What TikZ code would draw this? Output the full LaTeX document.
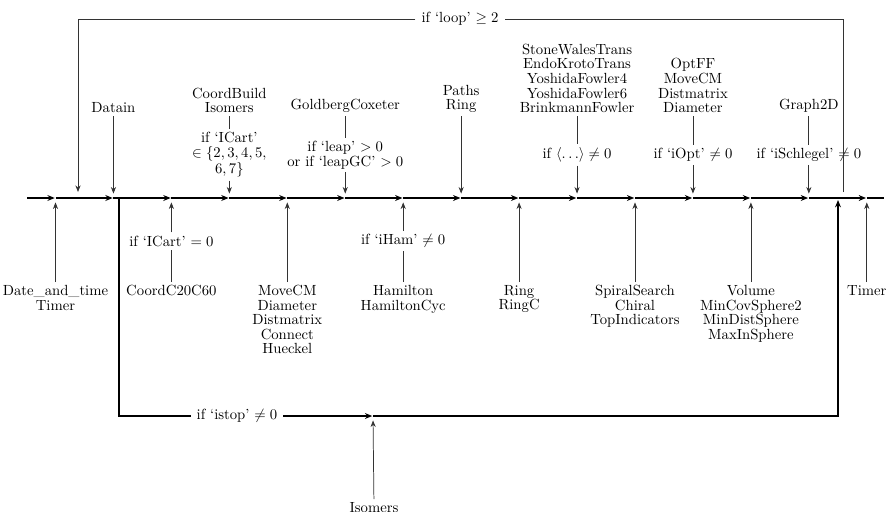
\documentclass[tikz,border=0pt]{standalone}
\usepackage{amsmath}
\usepackage{tikz}
\usetikzlibrary{arrows.meta,calc,positioning}

\begin{document}
\begin{tikzpicture}[x=0.68pt,y=-0.68pt,
  lbl/.style={align=center,font=\fontsize{10}{9.9}\selectfont,inner sep=2pt},
  gap/.style={lbl,fill=white,inner sep=4pt},
  flow/.style={-{Stealth[length=5pt,width=4pt]},line width=0.9pt,shorten >=0.5pt},
  feed/.style={-{Stealth[length=4.5pt,width=3.5pt]},black!80,line width=0.5pt,shorten >=3pt},
  tie/.style={black!80,line width=0.5pt}]
  \useasboundingbox (0,0) rectangle (886,511);
  % 主线上的各点
  \coordinate (s) at (27,198);
  \coordinate (e) at (884,198);
  \foreach \i in {0,...,14}
    \coordinate (p\i) at ({55.5+57.95*\i},198);
  \draw[flow] (s) -- (p0);
  \foreach \i [evaluate=\i as \j using int(\i+1)] in {0,...,13}
    \draw[flow] (p\i) -- (p\j);
  \draw[line width=0.9pt] (p14) -- (e);
  % 上方的子程序
  \node[lbl,anchor=south] (t1) at ($(p1)+(0,-82)$) {Datain};
  \draw[feed] (t1) -- (p1);
  \node[lbl,anchor=south] (t3) at ($(p3)+(0,-82)$) {CoordBuild\\Isomers};
  \node[lbl] (c3) at ($(p3)+(0,-43)$) {if `ICart'\\$\in\{2,3,4,5,$\\$6,7\}$};
  \draw[tie] (t3) -- (c3);
  \draw[feed] (c3) -- (p3);
  \node[lbl,anchor=south] (t5) at ($(p5)+(0,-82)$) {GoldbergCoxeter};
  \node[lbl] (c5) at ($(p5)+(0,-43)$) {if `leap' $>0$\\or if `leapGC' $>0$};
  \draw[tie] (t5) -- (c5);
  \draw[feed] (c5) -- (p5);
  \node[lbl,anchor=south] (t7) at ($(p7)+(0,-82)$) {Paths\\Ring};
  \draw[feed] (t7) -- (p7);
  \node[lbl,anchor=south] (t9) at ($(p9)+(0,-82)$) {StoneWalesTrans\\EndoKrotoTrans\\YoshidaFowler4\\YoshidaFowler6\\BrinkmannFowler};
  \node[lbl] (c9) at ($(p9)+(0,-43)$) {if $\langle\ldots\rangle\neq0$};
  \draw[tie] (t9) -- (c9);
  \draw[feed] (c9) -- (p9);
  \node[lbl,anchor=south] (t11) at ($(p11)+(0,-82)$) {OptFF\\MoveCM\\Distmatrix\\Diameter};
  \node[lbl] (c11) at ($(p11)+(0,-43)$) {if `iOpt' $\neq0$};
  \draw[tie] (t11) -- (c11);
  \draw[feed] (c11) -- (p11);
  \node[lbl,anchor=south] (t13) at ($(p13)+(0,-82)$) {Graph2D};
  \node[lbl] (c13) at ($(p13)+(0,-43)$) {if `iSchlegel' $\neq0$};
  \draw[tie] (t13) -- (c13);
  \draw[feed] (c13) -- (p13);
  % 下方的子程序
  \node[lbl,anchor=north] (b0) at ($(p0)+(0,84)$) {Date\_and\_time\\Timer};
  \draw[feed] (b0) -- (p0);
  \node[lbl,anchor=north] (b2) at ($(p2)+(0,84)$) {CoordC20C60};
  \node[lbl] (c2) at ($(p2)+(0,43)$) {if `ICart' $=0$};
  \draw[tie] (b2) -- (c2);
  \draw[feed] (c2) -- (p2);
  \node[lbl,anchor=north] (b4) at ($(p4)+(0,84)$) {MoveCM\\Diameter\\Distmatrix\\Connect\\Hueckel};
  \draw[feed] (b4) -- (p4);
  \node[lbl,anchor=north] (b6) at ($(p6)+(0,84)$) {Hamilton\\HamiltonCyc};
  \node[lbl] (c6) at ($(p6)+(0,43)$) {if `iHam' $\neq0$};
  \draw[tie] (b6) -- (c6);
  \draw[feed] (c6) -- (p6);
  \node[lbl,anchor=north] (b8) at ($(p8)+(0,84)$) {Ring\\RingC};
  \draw[feed] (b8) -- (p8);
  \node[lbl,anchor=north] (b10) at ($(p10)+(0,84)$) {SpiralSearch\\Chiral\\TopIndicators};
  \draw[feed] (b10) -- (p10);
  \node[lbl,anchor=north] (b12) at ($(p12)+(0,84)$) {Volume\\MinCovSphere2\\MinDistSphere\\MaxInSphere};
  \draw[feed] (b12) -- (p12);
  \node[lbl,anchor=north] (b14) at ($(p14)+(0,84)$) {Timer};
  \draw[feed] (b14) -- (p14);
  % 循环: 回到开头
  \coordinate (lin) at (78,192);
  \coordinate (lout) at (843,192);
  \node[gap] (loop) at (460,19) {if `loop' $\geq 2$};
  \draw[tie] (lout) |- (loop);
  \draw[feed,shorten >=0pt] (loop) -| (lin);
  % istop 分支
  \coordinate (sb) at (119,198);
  \coordinate (m) at (373,416);
  \coordinate (back) at (838,200);
  \node[gap] (stop) at (237,416) {if `istop' $\neq0$};
  \draw[line width=0.9pt] (sb) |- (stop);
  \draw[flow] (stop) -- (m);
  \draw[flow,shorten >=0pt] (m) -| (back);
  \node[lbl,anchor=north] (iso) at (374,499) {Isomers};
  \draw[feed] (iso) -- (m);
\end{tikzpicture}
\end{document}
